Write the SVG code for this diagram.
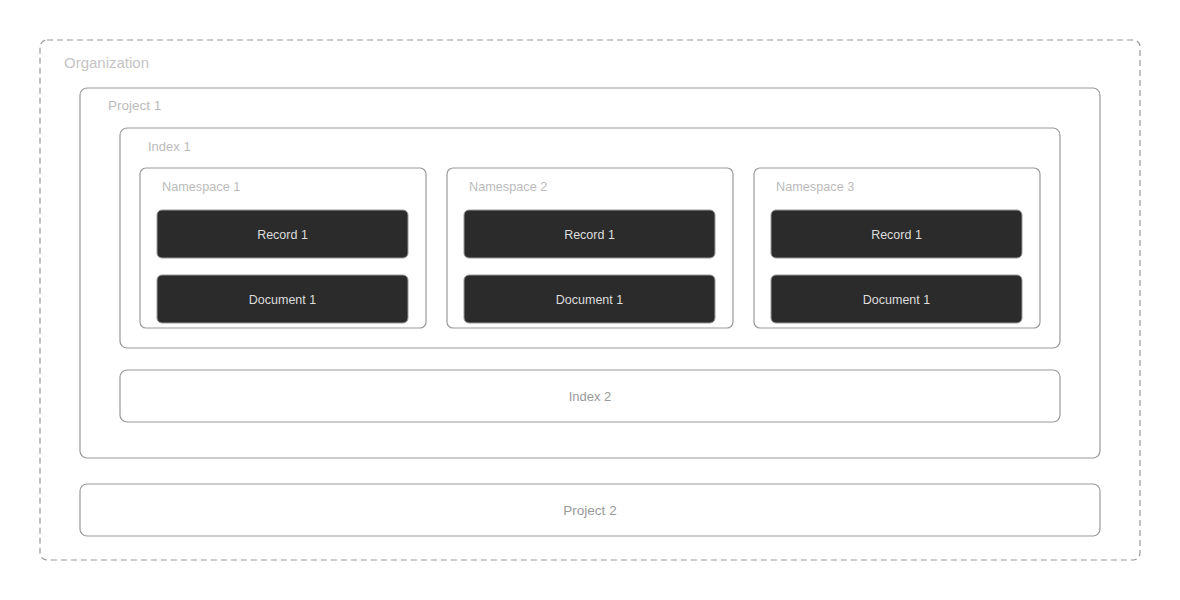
<svg xmlns="http://www.w3.org/2000/svg" width="1180" height="600" viewBox="0 0 1180 600">
<style>
.box{fill:#fff;stroke:#999;stroke-width:1.2}
.org{fill:#fff;stroke:#999;stroke-width:1.2;stroke-dasharray:6 4}
.lbl{font-family:"Liberation Sans",Arial,sans-serif;font-size:13.5px;fill:#bbb}
.ctr{font-family:"Liberation Sans",Arial,sans-serif;font-size:13px;fill:#999;text-anchor:middle}
.dark{fill:#2b2b2b;stroke:#999;stroke-width:1}
.dt{font-family:"Liberation Sans",Arial,sans-serif;font-size:12.5px;fill:#ddd;text-anchor:middle}
.ns{font-family:"Liberation Sans",Arial,sans-serif;font-size:12.7px;fill:#bbb}
</style>
<rect width="1180" height="600" fill="#fff"/>
<g id="organization">
<rect class="org" x="40" y="40" width="1100" height="520" rx="7"/>
<text class="lbl" x="64" y="68" style="font-size:15px;fill:#c4c4c4">Organization</text>
</g>
<g id="project1">
<rect class="box" x="80" y="88" width="1020" height="370" rx="7"/>
<text class="lbl" x="108" y="110">Project 1</text>
</g>
<g id="index1">
<rect class="box" x="120" y="128" width="940" height="220" rx="7"/>
<text class="lbl" x="148" y="151" style="font-size:13px">Index 1</text>
</g>
<g id="namespace1">
<rect class="box" x="140" y="168" width="286" height="160" rx="6"/>
<text class="ns" x="162" y="191">Namespace 1</text>
</g>
<g id="record1a">
<rect class="dark" x="157" y="210" width="251" height="48" rx="5"/>
<text class="dt" x="282.5" y="239">Record 1</text>
</g>
<g id="document1a">
<rect class="dark" x="157" y="275" width="251" height="48" rx="5"/>
<text class="dt" x="282.5" y="304">Document 1</text>
</g>
<g id="namespace2">
<rect class="box" x="447" y="168" width="286" height="160" rx="6"/>
<text class="ns" x="469" y="191">Namespace 2</text>
</g>
<g id="record1b">
<rect class="dark" x="464" y="210" width="251" height="48" rx="5"/>
<text class="dt" x="589.5" y="239">Record 1</text>
</g>
<g id="document1b">
<rect class="dark" x="464" y="275" width="251" height="48" rx="5"/>
<text class="dt" x="589.5" y="304">Document 1</text>
</g>
<g id="namespace3">
<rect class="box" x="754" y="168" width="286" height="160" rx="6"/>
<text class="ns" x="776" y="191">Namespace 3</text>
</g>
<g id="record1c">
<rect class="dark" x="771" y="210" width="251" height="48" rx="5"/>
<text class="dt" x="896.5" y="239">Record 1</text>
</g>
<g id="document1c">
<rect class="dark" x="771" y="275" width="251" height="48" rx="5"/>
<text class="dt" x="896.5" y="304">Document 1</text>
</g>
<g id="index2">
<rect class="box" x="120" y="370" width="940" height="52" rx="7"/>
<text class="ctr" x="590" y="401">Index 2</text>
</g>
<g id="project2">
<rect class="box" x="80" y="484" width="1020" height="52" rx="7"/>
<text class="ctr" x="590" y="515" style="font-size:13.5px">Project 2</text>
</g>
<g id="connectors"></g>
</svg>
